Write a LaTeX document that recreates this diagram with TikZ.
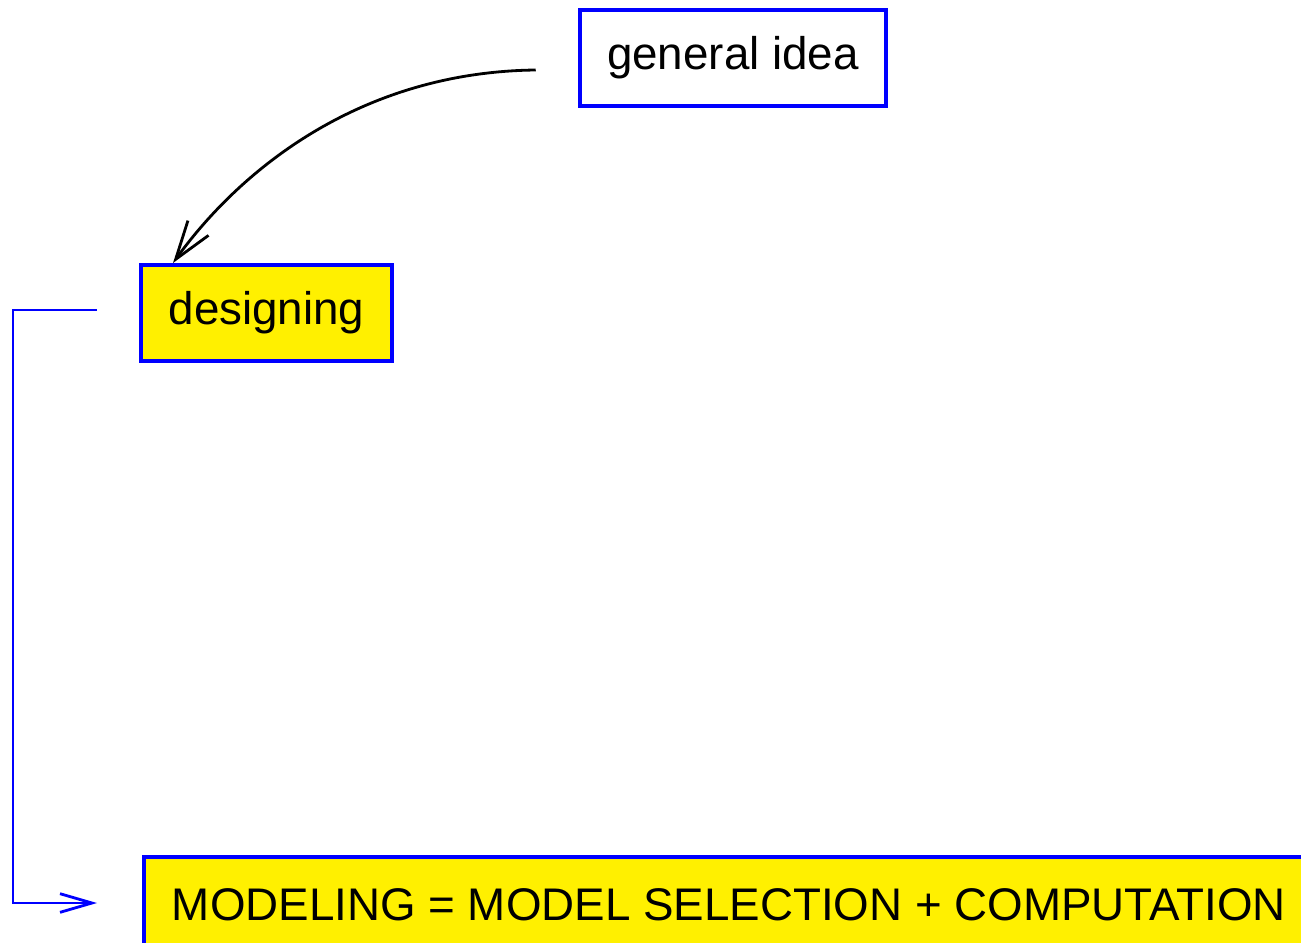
\documentclass[tikz,border=0pt]{standalone}
\usepackage{fontspec}
\setmainfont{Liberation Sans}
\usetikzlibrary{arrows.meta}
\definecolor{boxblue}{RGB}{0,0,255}
\definecolor{boxyellow}{RGB}{255,240,0}
\tikzset{
  box/.style={draw=boxblue, line width=2.9pt, inner sep=0pt, font=\fontsize{34.3}{40}\selectfont, text=black},
  filledbox/.style={box, fill=boxyellow},
  curvearrow/.style={draw=black, line width=2.1pt, -{Straight Barb[length=29pt,width=19pt,line width=2.1pt]}},
  bluearrow/.style={draw=boxblue, line width=2.1pt, -{Straight Barb[length=24pt,width=14pt,line width=2.1pt]}}
}
\begin{document}
\begin{tikzpicture}[x=0.75pt,y=-0.75pt]
\useasboundingbox (0,0) rectangle (1301,942);
\clip (0,0) rectangle (1301,942);
\node[box, minimum width=229pt, minimum height=72pt] (idea) at (733,58) {general idea};
\node[filledbox, minimum width=188pt, minimum height=72pt] (design) at (266.5,313) {designing};
\node[filledbox, inner xsep=21pt, minimum height=72pt, anchor=north west] (model) at (142,855) {MODELING = MODEL SELECTION + COMPUTATION};
\coordinate (cstart) at ([xshift=-32pt]idea.west |- 0,70);
\coordinate (dtop) at (173,263);
\draw[curvearrow] (cstart) .. controls (360,72) and (240,170) .. (dtop);
\coordinate (bstart) at ([xshift=-31.5pt]design.west |- 0,310);
\coordinate (bend) at (97,903);
\draw[bluearrow] (bstart) -- (13,310) -- (13,903) -- (bend);
\end{tikzpicture}
\end{document}
